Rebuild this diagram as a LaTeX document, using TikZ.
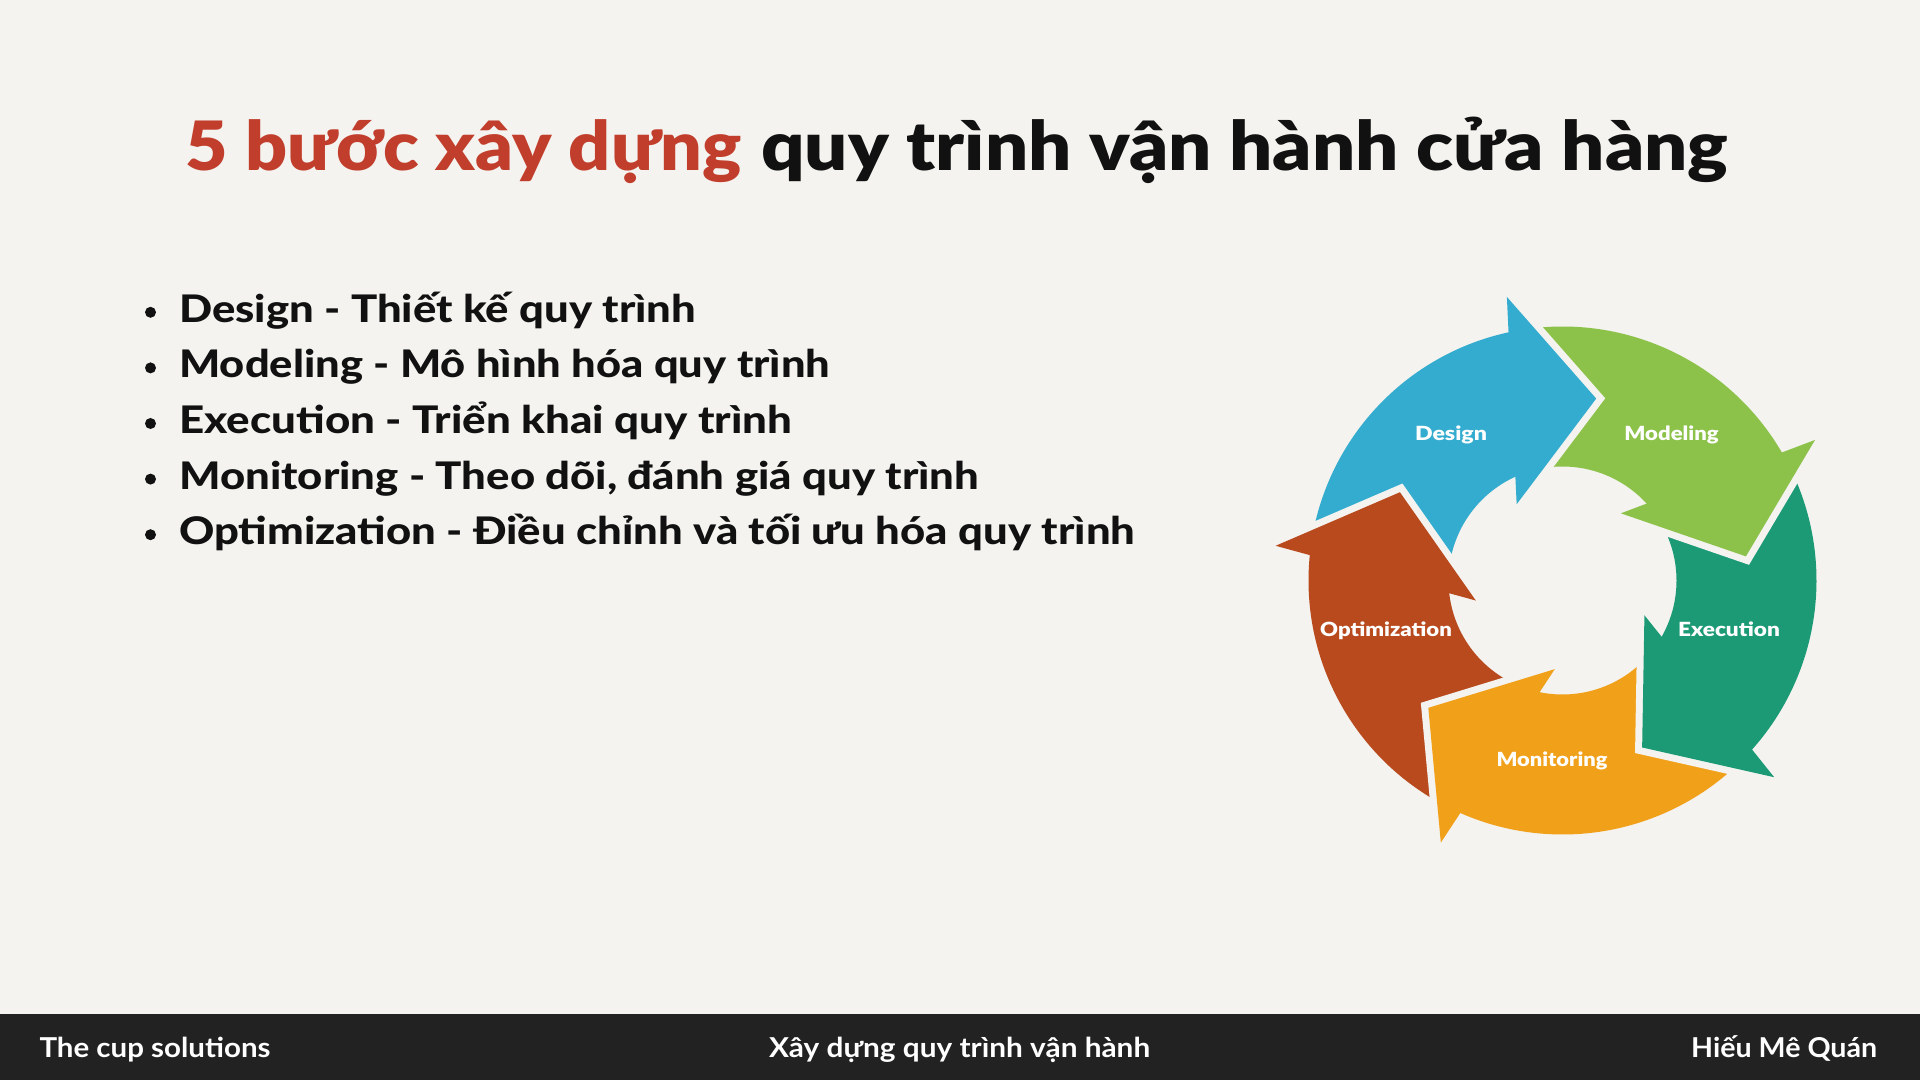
\documentclass[tikz,border=0pt]{standalone}
\usepackage{fontspec}
\usepackage{graphicx}
\setmainfont{Lato}
\newfontfamily\heavyfont{Lato Black}
\newfontfamily\semiheavyfont{Lato Heavy}
\newcommand{\fitw}[2]{\resizebox{#1}{\height}{#2}}
\definecolor{bgc}{RGB}{244,243,239}
\definecolor{footc}{RGB}{34,34,34}
\definecolor{titred}{RGB}{193,62,44}
\definecolor{ink}{RGB}{17,17,17}
\definecolor{cblue}{RGB}{52,172,208}
\definecolor{cgreen}{RGB}{140,194,74}
\definecolor{cteal}{RGB}{28,154,118}
\definecolor{corange}{RGB}{241,160,26}
\definecolor{crust}{RGB}{184,74,30}
\tikzset{
  titletext/.style={anchor=base west, inner sep=0pt, font=\fontsize{68}{80}\heavyfont},
  bullettext/.style={anchor=base west, inner sep=0pt, text=ink, font=\fontsize{38}{44}\semiheavyfont},
  bulletdot/.style={circle, fill=ink, inner sep=0pt, minimum size=11pt},
  foottext/.style={anchor=base west, inner sep=0pt, text=white, font=\fontsize{27.4}{32}\selectfont\bfseries},
  wheellabel/.style={anchor=base, inner sep=0pt, text=white, font=\fontsize{19.5}{22}\heavyfont}
}
\begin{document}
\begin{tikzpicture}[x=1pt,y=1pt]
\useasboundingbox (0,0) rectangle (1920,1080);
\fill[bgc] (0,0) rectangle (1920,1080);
\fill[footc] (0,0) rectangle (1920,66);

% title
\node[titletext, text=titred] (t1) at (185.5,909) {\fitw{556pt}{5 bước xây dựng}};
\node[titletext, text=ink] (t2) at (761,909) {\fitw{967pt}{quy trình vận hành cửa hàng}};

% bullets
\node[bulletdot] (d1) at (150.5,767.7) {};
\node[bulletdot] (d2) at (150.5,712.1) {};
\node[bulletdot] (d3) at (150.5,656.5) {};
\node[bulletdot] (d4) at (150.5,600.9) {};
\node[bulletdot] (d5) at (150.5,545.3) {};
\node[bullettext] (b1) at (179,757.7) {\fitw{517pt}{Design - Thiết kế quy trình}};
\node[bullettext] (b2) at (179,702.1) {\fitw{651pt}{Modeling - Mô hình hóa quy trình}};
\node[bullettext] (b3) at (179,646.5) {\fitw{613pt}{Execution - Triển khai quy trình}};
\node[bullettext] (b4) at (179,590.9) {\fitw{800pt}{Monitoring - Theo dõi, đánh giá quy trình}};
\node[bullettext] (b5) at (179,535.3) {\fitw{956pt}{Optimization - Điều chỉnh và tối ưu hóa quy trình}};

% footer
\node[foottext] (f1) at (39.3,22.7) {\fitw{231pt}{The cup solutions}};
\node[foottext] (f2) at (769,22.7) {\fitw{381pt}{Xây dựng quy trình vận hành}};
\node[foottext] (f3) at (1691,22.7) {\fitw{186pt}{Hiếu Mê Quán}};

% cycle wheel
\begin{scope}[shift={(1562.5,499.5)}]
\foreach \T/\col in {79.5/cblue, 7.5/cgreen, -64.5/cteal, -136.5/corange, 151.5/crust} {
  \fill[\col] (\T+92:254) arc[start angle=\T+92, end angle=\T+21, radius=254]
    -- (\T+33.5:114) arc[start angle=\T+33.5, end angle=\T+104, radius=114] -- cycle;
}
\foreach \T/\col in {79.5/cblue, 7.5/cgreen, -64.5/cteal, -136.5/corange, 151.5/crust} {
  \draw[bgc, line width=14pt, line join=miter] (\T+21.6:289) -- (\T:185) -- (\T+41.5:89);
  \fill[\col] (\T+21.6:289) -- (\T:185) -- (\T+41.5:89) -- cycle;
}
\end{scope}

\node[wheellabel] (lDesign) at (1451,639) {\fitw{72pt}{Design}};
\node[wheellabel] (lModeling) at (1671.5,639) {\fitw{94.3pt}{Modeling}};
\node[wheellabel] (lExecution) at (1729,443) {\fitw{101.7pt}{Execution}};
\node[wheellabel] (lMonitoring) at (1552,313) {\fitw{111pt}{Monitoring}};
\node[wheellabel] (lOptimization) at (1386,443) {\fitw{131.7pt}{Optimization}};
\end{tikzpicture}
\end{document}
